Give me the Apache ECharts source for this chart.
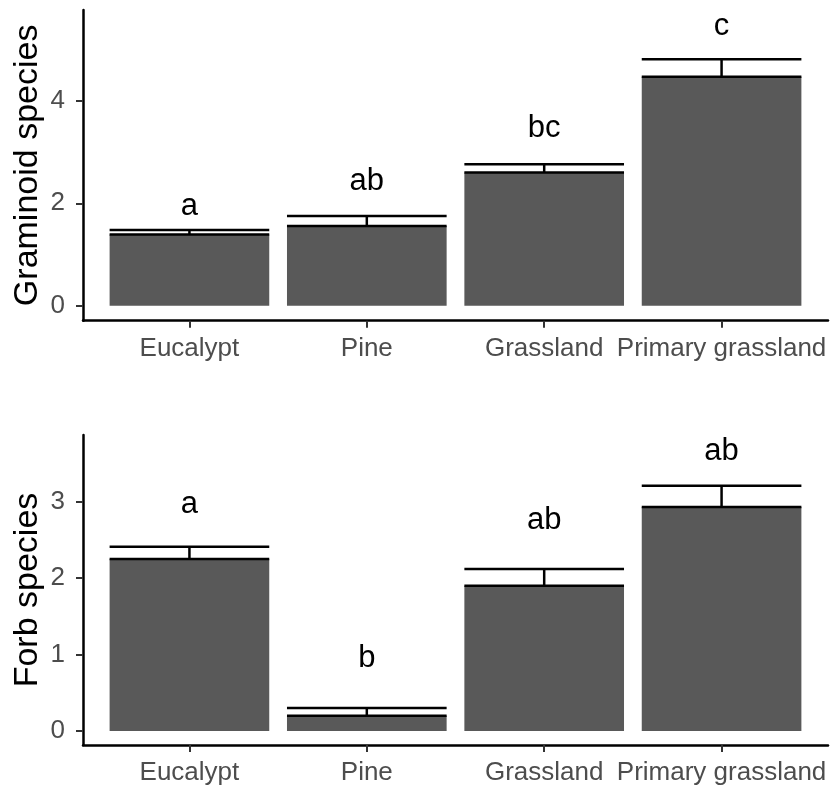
<!DOCTYPE html>
<html style="height: 100%">
<head>
<meta charset="utf-8">
<script src="https://cdn.jsdelivr.net/npm/echarts@6/dist/echarts.min.js"></script>
</head>
<body style="height: 100%; margin: 0; background: #fff">
<div id="container" style="width: 830px; height: 790px"></div>
<script type="text/javascript">
// habitat categories, positions 1..4 on the x scale
var categories = ['Eucalypt', 'Pine', 'Grassland', 'Primary grassland'];
var catPos = [1, 2, 3, 4];

// graminoid species: mean, standard error, letter and letter height
var gramMean = [1.39, 1.555, 2.60, 4.47];
var gramSe = [0.09, 0.195, 0.16, 0.34];
var gramLetters = ['a', 'ab', 'bc', 'c'];
var gramLetterY = [1.93, 2.42, 3.46, 5.44];
var gramTicks = [0, 2, 4];

// forb species
var forbMean = [2.25, 0.20, 1.90, 2.93];
var forbSe = [0.16, 0.10, 0.22, 0.28];
var forbLetters = ['a', 'b', 'ab', 'ab'];
var forbLetterY = [2.96, 0.95, 2.76, 3.66];
var forbTicks = [0, 1, 2, 3];

var FONT = 'Liberation Sans, Arial, sans-serif';
var HALF = 0.45;

var dom = document.getElementById('container');
var myChart = echarts.init(dom);

function barItem(params, api) {
    var x = api.value(0), y = api.value(1);
    var p0 = api.coord([x - HALF, y]);
    var p1 = api.coord([x + HALF, 0]);
    return {
        type: 'rect',
        shape: {x: p0[0], y: p0[1], width: p1[0] - p0[0], height: p1[1] - p0[1]},
        style: {fill: '#595959'}
    };
}

function errItem(params, api) {
    var x = api.value(0), lo = api.value(1), hi = api.value(2);
    var a = api.coord([x - HALF, lo]);
    var b = api.coord([x + HALF, hi]);
    var c = api.coord([x, lo]);
    var st = {stroke: '#000', lineWidth: 2.5};
    return {
        type: 'group',
        children: [
            {type: 'line', shape: {x1: a[0], y1: a[1], x2: b[0], y2: a[1]}, style: st},
            {type: 'line', shape: {x1: a[0], y1: b[1], x2: b[0], y2: b[1]}, style: st},
            {type: 'line', shape: {x1: c[0], y1: a[1], x2: c[0], y2: b[1]}, style: st}
        ]
    };
}

function letterItem(params, api) {
    var p = api.coord([api.value(0), api.value(1)]);
    return {
        type: 'text',
        x: p[0], y: p[1],
        style: {
            text: api.value(2),
            font: '31px ' + FONT,
            fill: '#000',
            align: 'center',
            verticalAlign: 'middle'
        }
    };
}

function xAxisFor(gridIndex) {
    return {
        type: 'value', gridIndex: gridIndex, min: 0.4, max: 4.6,
        splitLine: {show: false},
        axisLine: {show: true, onZero: false, lineStyle: {color: '#000', width: 2.5}},
        axisTick: {show: true, customValues: catPos, length: 7, lineStyle: {color: '#333', width: 2}},
        axisLabel: {
            customValues: catPos, margin: 15, color: '#4D4D4D', fontSize: 26, fontFamily: FONT,
            formatter: function (v) { return categories[Math.round(v) - 1]; }
        }
    };
}

function yAxisFor(gridIndex, name, min, max, ticks) {
    return {
        type: 'value', gridIndex: gridIndex, min: min, max: max,
        name: name, nameLocation: 'middle', nameRotate: 90, nameGap: 38,
        nameMoveOverlap: false,
        nameTextStyle: {color: '#000', fontSize: 34, fontFamily: FONT},
        splitLine: {show: false},
        axisLine: {show: true, onZero: false, lineStyle: {color: '#000', width: 2.5}},
        axisTick: {show: true, customValues: ticks, length: 7, lineStyle: {color: '#333', width: 2}},
        axisLabel: {customValues: ticks, margin: 18, color: '#4D4D4D', fontSize: 26, fontFamily: FONT}
    };
}

function seriesFor(idx, means, se, letters, letterY) {
    var bars = catPos.map(function (x, i) { return [x, means[i]]; });
    var errs = catPos.map(function (x, i) { return [x, means[i], means[i] + se[i]]; });
    var labs = catPos.map(function (x, i) { return [x, letterY[i], letters[i]]; });
    return [
        {type: 'custom', xAxisIndex: idx, yAxisIndex: idx, renderItem: barItem, data: bars, silent: true, encode: {x: 0, y: 1}},
        {type: 'custom', xAxisIndex: idx, yAxisIndex: idx, renderItem: errItem, data: errs, silent: true, encode: {x: 0, y: [1, 2]}},
        {type: 'custom', xAxisIndex: idx, yAxisIndex: idx, renderItem: letterItem, data: labs, silent: true, encode: {x: 0, y: 1}}
    ];
}

var option = {
    backgroundColor: '#fff',
    animation: false,
    grid: [
        {left: 83, right: 2, top: 10, height: 310.7},
        {left: 83, right: 2, top: 435, height: 310}
    ],
    xAxis: [xAxisFor(0), xAxisFor(1)],
    yAxis: [
        yAxisFor(0, 'Graminoid species', -0.29, 5.77, gramTicks),
        yAxisFor(1, 'Forb species', -0.183, 3.873, forbTicks)
    ],
    series: seriesFor(0, gramMean, gramSe, gramLetters, gramLetterY)
        .concat(seriesFor(1, forbMean, forbSe, forbLetters, forbLetterY))
};

myChart.setOption(option);
</script>
</body>
</html>
